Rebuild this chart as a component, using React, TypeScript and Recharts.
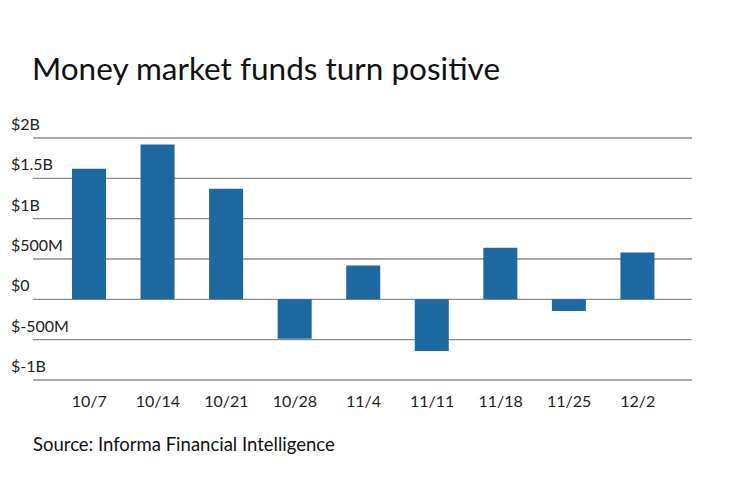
import { Bar, BarChart, CartesianGrid, XAxis, YAxis } from 'recharts';

// Weekly money market fund flows, in millions of dollars
const weeks = ['10/7', '10/14', '10/21', '10/28', '11/4', '11/11', '11/18', '11/25', '12/2'];
const flows = [1620, 1920, 1370, -490, 420, -640, 640, -145, 580];
const yTicks = [-1000, -500, 0, 500, 1000, 1500, 2000];

const data = weeks.map((week, i) => ({ week, flow: flows[i] }));

const FONT = 'Lato, "Open Sans", sans-serif';

function formatMoney(v: number) {
    if (v === 0) return '$0';
    const abs = Math.abs(v);
    const sign = v < 0 ? '-' : '';
    if (abs >= 1000) return `$${sign}${abs / 1000}B`;
    return `$${sign}${abs}M`;
}

// y labels sit left-aligned above their gridline
function YTick(props: any) {
    const { y, payload } = props;
    return (
        <text x={11} y={y - 8} textAnchor="start" fontSize={16} fill="#222" fontFamily={FONT}>
            {formatMoney(payload.value)}
        </text>
    );
}

function XTick(props: any) {
    const { x, y, payload } = props;
    return (
        <text x={x} y={y + 19} textAnchor="middle" fontSize={16} fill="#222" fontFamily={FONT}>
            {payload.value}
        </text>
    );
}

export default function App() {
    return (
        <div style={{ position: 'absolute', left: 0, top: 0, width: 740, height: 482, background: '#fff', fontFamily: FONT }}>
            <div style={{ position: 'absolute', left: 32, top: 49, fontSize: 31.5, color: '#111', whiteSpace: 'nowrap' }}>
                Money market funds turn positive
            </div>
            <BarChart
                width={740}
                height={482}
                data={data}
                margin={{ top: 138, right: 48, left: 0, bottom: 62 }}
            >
                <CartesianGrid vertical={false} stroke="#8c8c8c" strokeWidth={1.3} />
                <XAxis
                    dataKey="week"
                    axisLine={false}
                    tickLine={false}
                    height={40}
                    padding={{ left: 22, right: 20 }}
                    tick={<XTick />}
                    interval={0}
                />
                <YAxis
                    width={33}
                    domain={[-1000, 2000]}
                    ticks={yTicks}
                    axisLine={false}
                    tickLine={false}
                    tick={<YTick />}
                    interval={0}
                />
                <Bar dataKey="flow" fill="#1b69a0" barSize={34} isAnimationActive={false} />
            </BarChart>
            <div style={{ position: 'absolute', left: 33, top: 433, fontSize: 18.5, color: '#111', whiteSpace: 'nowrap' }}>
                Source: Informa Financial Intelligence
            </div>
        </div>
    );
}
